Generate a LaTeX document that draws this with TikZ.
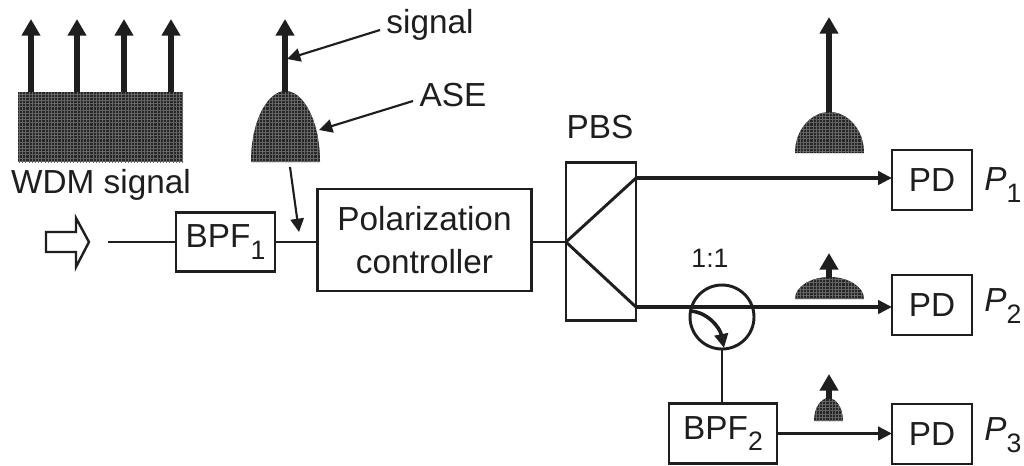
\documentclass[tikz,border=0pt]{standalone}
\usepackage{fontspec}
\setmainfont{Liberation Sans}
\usetikzlibrary{arrows.meta,patterns.meta}
\definecolor{ink}{HTML}{1E1E1E}
\definecolor{hatchdark}{HTML}{262626}
\definecolor{hatchlight}{HTML}{666666}
\newcommand{\subt}[1]{\raisebox{-0.34em}{\fontsize{20}{20}\selectfont #1}}
\tikzset{
  x=0.75pt,y=-0.75pt,
  every node/.style={text=ink,font=\fontsize{25}{29}\selectfont},
  boxnode/.style={draw=ink,line width=2.2pt,rectangle,inner sep=0pt,outer sep=0pt,align=center},
  wire/.style={draw=ink,line width=2.2pt},
  fatwire/.style={draw=ink,line width=2.7pt},
  tipped/.style={-{Triangle[length=10.5pt,width=10pt]}},
  thintip/.style={draw=ink,line width=1.6pt,-{Triangle[length=10pt,width=10pt]}},
  spectrum/.style={draw=ink,line width=4.4pt,-{Triangle[length=12.5pt,width=13.5pt]}},
  darkfill/.style={fill=hatchdark},
  hatchh/.style={pattern={Lines[angle=0,distance=2.4pt,line width=.45pt]},pattern color=hatchlight},
  hatchv/.style={pattern={Lines[angle=90,distance=2.4pt,line width=.45pt]},pattern color=hatchlight},
}
\newcommand{\hatched}[1]{%
  \path[darkfill] #1;\path[hatchh] #1;\path[hatchv] #1;}
\newcommand{\bell}[4]{% left, right, top, bottom
  \hatched{(#1,#4) .. controls (#1,{#3+0.42*(#4-#3)}) and ({#1+0.24*(#2-#1)},#3) .. ({(#1+#2)/2},#3) .. controls ({#2-0.24*(#2-#1)},#3) and (#2,{#3+0.42*(#4-#3)}) .. (#2,#4) -- cycle}}
\begin{document}
\begin{tikzpicture}
\useasboundingbox (0,0) rectangle (1024,465);
% spectra
\hatched{(18,92) rectangle (183,162)}
\bell{251}{320}{91}{162}
\bell{795}{864}{112}{153}
\bell{795}{864}{277}{299}
\bell{814}{843}{398}{421}
\foreach \n/\xx/\yb/\yt in {wa/31/92/19,wb/77/92/19,wc/124/92/19,wd/171/92/19,sa/285/92/19,sb/829/112/17,sc/829/278/253,sd/829/399/374}{
  \coordinate (\n0) at (\xx,\yb);
  \coordinate (\n1) at (\xx,\yt);
  \draw[spectrum] (\n0) -- (\n1);
}
% labels
\node (wdm) at (101,185) {WDM signal};
\node (sig) at (430,25) {signal};
\node (ase) at (453,95) {ASE};
\node (pbsl) at (600,127) {PBS};
\node (ratio) at (710,258) {\fontsize{20}{24}\selectfont 1:1};
% annotation arrows
\coordinate (sigfrom) at (380,30);
\coordinate (sigto) at (287,59);
\coordinate (asefrom) at (413,101);
\coordinate (aseto) at (319,130);
\coordinate (downfrom) at (290,167);
\coordinate (downto) at (299,232);
\draw[thintip] (sigfrom) -- (sigto);
\draw[thintip] (asefrom) -- (aseto);
\draw[thintip] (downfrom) -- (downto);
% hollow input arrow
\draw[draw=ink,line width=1.8pt,fill=white,line join=miter] (46,232) -- (76,232) -- (76,218) -- (89,242) -- (76,267) -- (76,252) -- (46,252) -- cycle;
% boxes
\node[boxnode,minimum width=74.25pt,minimum height=44.25pt] (bpfa) at (225.5,242) {BPF\subt{1}};
\node[boxnode,minimum width=160pt,minimum height=76.5pt] (pc) at (424.5,240) {Polarization\\[3pt]controller};
\node[boxnode,minimum width=52.5pt,minimum height=119pt] (pbs) at (601,241.5) {};
\node[boxnode,minimum width=60pt,minimum height=45pt] (pda) at (932,180) {PD};
\node[boxnode,minimum width=60pt,minimum height=45pt] (pdb) at (932,305) {PD};
\node[boxnode,minimum width=60pt,minimum height=45pt] (pdc) at (932,434) {PD};
\node[boxnode,minimum width=81pt,minimum height=45pt] (bpfb) at (723,433.5) {BPF\subt{2}};
\node[draw=ink,line width=2.2pt,circle,inner sep=0pt,outer sep=0pt,minimum size=48pt] (coup) at (722,317) {};
\node (pa) at (1003,185) {\textit{P}\subt{1}};
\node (pb) at (1003,306) {\textit{P}\subt{2}};
\node (pc3) at (1003,435) {\textit{P}\subt{3}};
% connectors
\coordinate (inp) at (108,242);
\coordinate (split) at (566,242);
\coordinate (upper) at (636,178);
\coordinate (lower) at (636,307);
\coordinate (bendstart) at (690,311);
\coordinate (bendend) at (724,348);
\draw[wire] (inp) -- (bpfa.west);
\draw[wire] (bpfa.east) -- (pc.west |- bpfa.east);
\draw[wire] (pc.east |- split) -- (split);
\draw[wire] (split) -- (upper);
\draw[wire] (split) -- (lower);
\draw[fatwire,tipped] (upper) -- (pda.west |- upper);
\draw[fatwire,tipped] (lower) -- (pdb.west |- lower);
\draw[fatwire,tipped] (bpfb.east) -- (pdc.west |- bpfb.east);
\draw[wire] (coup.south) -- (bpfb.north -| coup.south);
\draw[fatwire,tipped] (bendstart) .. controls (708,312) and (720,328) .. (bendend);
\end{tikzpicture}
\end{document}
